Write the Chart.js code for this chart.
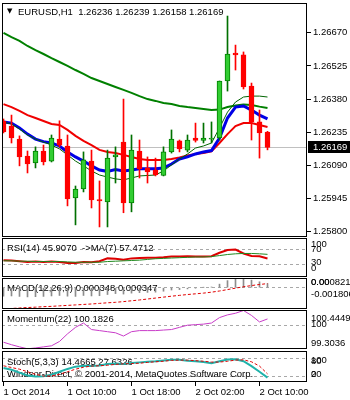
<!DOCTYPE html>
<html>
<head>
<meta charset="utf-8">
<script src="https://cdn.jsdelivr.net/npm/chart.js@4.4.0/dist/chart.umd.min.js"></script>
<style>
  html, body { margin: 0; padding: 0; background: #fff; }
  #wrap { position: relative; width: 350px; height: 400px; overflow: hidden; }
  canvas { position: absolute; left: 0; }
</style>
</head>
<body>
<div id="wrap">
  <canvas id="main" width="350" height="237" style="top:0px"></canvas>
  <canvas id="rsi" width="350" height="39" style="top:238px"></canvas>
  <canvas id="macd" width="350" height="31" style="top:278px"></canvas>
  <canvas id="mom" width="350" height="39" style="top:310px"></canvas>
  <canvas id="stoch" width="350" height="49" style="top:351px"></canvas>
</div>
<script>
// EURUSD H1 candles, 1 Oct 02:00 .. 2 Oct 11:00
const open  = [1.26284,1.26262,1.26205,1.26131,1.26101,1.26153,1.26109,1.26205,1.26175,1.25948,1.25987,1.26109,1.25941,1.25930,1.26127,1.26192,1.25926,1.26153,1.26079,1.26070,1.26046,1.26149,1.26197,1.26157,1.26210,1.26199,1.26205,1.26210,1.26459,1.26581,1.26573,1.26437,1.26280,1.26236];
const high  = [1.26293,1.26310,1.26219,1.26153,1.26171,1.26179,1.26223,1.26285,1.26223,1.26000,1.26149,1.26157,1.26022,1.26157,1.26171,1.26380,1.26223,1.26201,1.26127,1.26122,1.26171,1.26245,1.26201,1.26223,1.26275,1.26275,1.26280,1.26459,1.26743,1.26616,1.26586,1.26450,1.26332,1.26239];
const low   = [1.26232,1.26188,1.26088,1.26057,1.26079,1.26092,1.26105,1.26171,1.25913,1.25830,1.25974,1.25904,1.25821,1.25821,1.26013,1.25883,1.25887,1.26035,1.26013,1.26044,1.26044,1.26144,1.26149,1.26149,1.26192,1.26188,1.26188,1.26201,1.26415,1.26507,1.26424,1.26201,1.26122,1.26158];
const close = [1.26236,1.26210,1.26127,1.26096,1.26153,1.26105,1.26210,1.26179,1.25943,1.25987,1.26114,1.25939,1.25935,1.26122,1.26136,1.25926,1.26157,1.26075,1.26061,1.26048,1.26149,1.26205,1.26162,1.26201,1.26199,1.26210,1.26210,1.26459,1.26577,1.26573,1.26433,1.26280,1.26232,1.26169];

// moving averages on the price panel
const maSlow = [1.26669,1.26651,1.26634,1.26612,1.26594,1.26577,1.26559,1.26542,1.26525,1.26507,1.26490,1.26472,1.26459,1.26446,1.26433,1.26420,1.26407,1.26393,1.26380,1.26372,1.26363,1.26358,1.26350,1.26345,1.26341,1.26337,1.26332,1.26334,1.26345,1.26352,1.26356,1.26354,1.26347,1.26341];
const maMid  = [1.26358,1.26345,1.26328,1.26310,1.26297,1.26284,1.26271,1.26267,1.26245,1.26219,1.26197,1.26179,1.26158,1.26149,1.26144,1.26136,1.26127,1.26118,1.26114,1.26114,1.26114,1.26118,1.26125,1.26133,1.26140,1.26144,1.26151,1.26188,1.26227,1.26262,1.26275,1.26275,1.26267,1.26258];
const maFast = [1.26280,1.26275,1.26254,1.26227,1.26205,1.26194,1.26188,1.26175,1.26149,1.26127,1.26109,1.26088,1.26070,1.26064,1.26072,1.26066,1.26070,1.26075,1.26075,1.26075,1.26079,1.26096,1.26118,1.26127,1.26140,1.26149,1.26155,1.26210,1.26297,1.26345,1.26350,1.26332,1.26310,1.26293];
const maThin = [1.26280,1.26271,1.26249,1.26223,1.26205,1.26192,1.26179,1.26162,1.26136,1.26109,1.26088,1.26066,1.26048,1.26039,1.26031,1.26027,1.26035,1.26044,1.26046,1.26048,1.26066,1.26092,1.26118,1.26140,1.26166,1.26175,1.26188,1.26254,1.26323,1.26367,1.26389,1.26393,1.26393,1.26389];

// indicators
const rsi   = [41,40,38,36,37,36,37,36,33,33,36,35,38,46,45,42,46,47,48,48,49,51,51,52,51,51,52,62,70,71,60,53,52,45.9070];
const rsiMa = [39,39,38,38,37,37,37,37,36,35,35,35,35,37,38,39,40,41,43,45,46,47,48,49,50,50,51,54,57,59,60,60,59,57.4712];
const macdMain   = [-0.00072,-0.00070,-0.00074,-0.00078,-0.00076,-0.00074,-0.00070,-0.00066,-0.00072,-0.00074,-0.00066,-0.00070,-0.00068,-0.00058,-0.00050,-0.00054,-0.00046,-0.00042,-0.00040,-0.00038,-0.00030,-0.00020,-0.00016,-0.00010,-0.00004,0.00002,0.00006,0.00030,0.00060,0.00075,0.00075,0.00064,0.00050,0.000348];
const macdSignal = [-0.00180,-0.00176,-0.00172,-0.00168,-0.00165,-0.00161,-0.00158,-0.00154,-0.00150,-0.00146,-0.00142,-0.00138,-0.00133,-0.00128,-0.00124,-0.00118,-0.00111,-0.00104,-0.00096,-0.00088,-0.00080,-0.00072,-0.00065,-0.00058,-0.00052,-0.00046,-0.00038,-0.00028,-0.00016,-0.00004,0.00008,0.00018,0.00027,0.000347];
const momentum = [99.502,99.429,99.366,99.310,99.334,99.366,99.397,99.524,99.747,99.937,100.064,99.873,99.842,99.810,99.778,99.683,99.810,99.842,99.842,99.842,99.858,99.873,99.937,100.000,100.016,100.032,100.064,100.223,100.302,100.350,100.430,100.286,100.096,100.1826];
const stochMain   = [48,42,32,22,18,19,25,35,45,53,56,55,57,62,64,62,66,68,70,72,75,77,77,74,72,69,65,72,78,79,72,55,35,14.4665];
const stochSignal = [56,50,44,35,26,20,20,26,35,44,51,55,56,58,61,63,64,65,68,70,72,75,76,76,74,72,69,69,72,76,77,70,55,27.6326];

// axis ticks
const priceTicks = [1.25800,1.25945,1.26090,1.26235,1.26380,1.26525,1.26670];
const timeTickIdx = [0, 8, 16, 24, 32];
const timeLabels = ['1 Oct 2014', '1 Oct 10:00', '1 Oct 18:00', '2 Oct 02:00', '2 Oct 10:00'];

const FONT = '"Liberation Sans", Arial, sans-serif';
const X_MIN = -0.1875, X_MAX = 37.9375;
const pts = arr => arr.map((v, i) => ({ x: i, y: v }));
const up = open.map((o, i) => close[i] >= o);

const frame = {
  id: 'frame',
  afterDraw(chart) {
    const { ctx, chartArea: a } = chart;
    ctx.save();
    ctx.strokeStyle = '#000';
    ctx.lineWidth = 1;
    ctx.strokeRect(a.left + 0.5, a.top + 0.5, a.right - a.left - 1, a.bottom - a.top - 1);
    ctx.restore();
  }
};

const captions = {
  id: 'captions',
  beforeDatasetsDraw(chart, args, opts) {
    const { ctx, chartArea: a } = chart;
    ctx.save();
    ctx.fillStyle = '#000';
    ctx.textBaseline = 'alphabetic';
    (opts.items || []).forEach(it => {
      ctx.font = it.font || ('9.5px ' + FONT);
      ctx.fillText(it.text, a.left + it.dx, a.top + it.dy);
    });
    ctx.restore();
  }
};

const sideLabels = {
  id: 'sideLabels',
  afterDraw(chart, args, opts) {
    const { ctx, chartArea: a } = chart;
    const ys = chart.scales.y;
    ctx.save();
    ctx.fillStyle = '#000';
    ctx.font = '9.5px ' + FONT;
    ctx.textBaseline = 'middle';
    (opts.items || []).forEach(([text, v, dy]) => {
      ctx.fillText(text, a.right + 4, ys.getPixelForValue(v) + dy);
    });
    ctx.restore();
  }
};

const lastPrice = {
  id: 'lastPrice',
  beforeDatasetsDraw(chart, args, opts) {
    if (opts.value == null) return;
    const { ctx, chartArea: a } = chart;
    const y = Math.round(chart.scales.y.getPixelForValue(opts.value)) + 0.5;
    ctx.save();
    ctx.strokeStyle = '#c0c0c0';
    ctx.lineWidth = 1;
    ctx.beginPath();
    ctx.moveTo(a.left, y);
    ctx.lineTo(a.right, y);
    ctx.stroke();
    ctx.restore();
  },
  afterDraw(chart, args, opts) {
    if (opts.value == null) return;
    const { ctx, chartArea: a } = chart;
    const y = Math.round(chart.scales.y.getPixelForValue(opts.value));
    ctx.save();
    ctx.fillStyle = '#000';
    ctx.fillRect(a.right + 1, y - 6, chart.width - a.right - 1, 12);
    ctx.fillStyle = '#fff';
    ctx.font = '9.5px ' + FONT;
    ctx.textBaseline = 'middle';
    ctx.fillText(opts.value.toFixed(5), a.right + 6, y + 0.5);
    ctx.restore();
  }
};

function hiddenX() {
  return { type: 'linear', min: X_MIN, max: X_MAX, display: false, offset: false, grid: { offset: false } };
}

function levelAxis(min, max, levels) {
  return {
    position: 'right', min, max,
    afterBuildTicks: s => { s.ticks = levels.map(v => ({ value: v })); },
    afterFit: s => { s.width = 43; s.paddingTop = 0; s.paddingBottom = 0; },
    ticks: { display: false },
    grid: { color: '#a8a8a8', drawTicks: false },
    border: { display: false, dash: [3, 3] }
  };
}

function line(data, color, width, dash) {
  return { type: 'line', data: pts(data), borderColor: color, borderWidth: width,
           borderDash: dash || [], pointRadius: 0, tension: 0, fill: false };
}

function panel(id, datasets, y, plug, x) {
  return new Chart(document.getElementById(id), {
    type: 'bar',
    data: { datasets },
    options: {
      animation: false, responsive: false, events: [],
      layout: { padding: { left: 2, top: 0, right: 0, bottom: 0 } },
      plugins: Object.assign({ legend: { display: false }, tooltip: { enabled: false } }, plug),
      scales: { x: x || hiddenX(), y }
    },
    plugins: [captions, frame, sideLabels]
  });
}

// price panel
const last = open.length - 1;
new Chart(document.getElementById('main'), {
  type: 'bar',
  data: {
    datasets: [
      { type: 'bar', data: open.map((o, i) => ({ x: i, y: [o, close[i]] })),
        backgroundColor: up.map(u => u ? '#32cd32' : '#ff0000'),
        borderColor: up.map(u => u ? '#008000' : '#ff0000'),
        borderWidth: 1, borderSkipped: false, barThickness: 5, grouped: false, minBarLength: 1 },
      { type: 'bar', data: low.map((l, i) => ({ x: i, y: [l, high[i]] })),
        backgroundColor: up.map(u => u ? '#007000' : '#ff0000'),
        barThickness: 1, grouped: false },
      line(maThin, '#006400', 1),
      line(maFast, '#0000e6', 3),
      line(maMid, '#f00000', 2),
      line(maSlow, '#008000', 2)
    ]
  },
  options: {
    animation: false, responsive: false, events: [],
    layout: { padding: { left: 2, top: 3, right: 0, bottom: 0 } },
    plugins: {
      legend: { display: false }, tooltip: { enabled: false },
      lastPrice: { value: close[last] },
      captions: { items: [
        { text: '\u25BC', dx: 5, dy: 10, font: '7px "DejaVu Sans"' },
        { text: 'EURUSD,H1  ' + [open[last], high[last], low[last], close[last]].map(v => v.toFixed(5)).join(' '), dx: 16, dy: 12 }
      ] }
    },
    scales: {
      x: hiddenX(),
      y: {
        position: 'right', min: 1.25777, max: 1.26800,
        afterBuildTicks: s => { s.ticks = priceTicks.map(v => ({ value: v })); },
        afterFit: s => { s.width = 43; s.paddingTop = 0; s.paddingBottom = 0; },
        ticks: { color: '#000', padding: 2, font: { family: FONT, size: 9.5 }, callback: v => v.toFixed(5) },
        grid: { drawOnChartArea: false, drawTicks: true, tickLength: 4, tickColor: '#000', color: '#000' },
        border: { display: false }
      }
    }
  },
  plugins: [lastPrice, captions, frame]
});

// RSI
panel('rsi', [line(rsiMa, '#1f8a1f', 1), line(rsi, '#dd0000', 2)],
  levelAxis(-7, 104, [70, 30]),
  { captions: { items: [{ text: 'RSI(14) ' + rsi[last].toFixed(4) + '  ->MA(7) ' + rsiMa[last].toFixed(4), dx: 5, dy: 13 }] },
    sideLabels: { items: [['100', 100, 5], ['70', 70, -1], ['30', 30, -1.5], ['0', 0, -6.5]] } });

// MACD
panel('macd', [
    line(macdSignal, '#e00000', 1, [3, 2]),
    { type: 'bar', data: pts(macdMain), backgroundColor: '#8c8c8c', barThickness: 1, grouped: false }
  ],
  levelAxis(-0.001806, 0.000821, [0]),
  { captions: { items: [{ text: 'MACD(12,26,9) ' + macdMain[last].toFixed(6) + ' ' + macdSignal[last].toFixed(6), dx: 5, dy: 13 }] },
    sideLabels: { items: [['0.000821', 0.000821, 4], ['0.00', 0, -5.5], ['-0.001806', -0.001806, -15]] } });

// Momentum
panel('mom', [line(momentum, '#c83cc8', 1)],
  levelAxis(99.3036, 100.4449, [100]),
  { captions: { items: [{ text: 'Momentum(22) ' + momentum[last].toFixed(4), dx: 5, dy: 12 }] },
    sideLabels: { items: [['100.4449', 100.4449, 8], ['100', 100, -1], ['99.3036', 99.3036, -6]] } });

// Stochastic with the time axis
panel('stoch', [line(stochSignal, '#e00000', 1, [3, 2]), line(stochMain, '#20b2aa', 2)],
  levelAxis(-1, 108, [80, 20]),
  { captions: { items: [
      { text: 'Stoch(5,3,3) ' + stochMain[last].toFixed(4) + ' ' + stochSignal[last].toFixed(4), dx: 5, dy: 14 },
      { text: 'Windsor-Direct, \u00A9 2001-2014, MetaQuotes Software Corp.', dx: 5, dy: 26 }
    ] },
    sideLabels: { items: [['100', 100, 7.5], ['80', 80, 2], ['20', 20, -1.5], ['0', 0, -7]] } },
  {
    type: 'linear', min: X_MIN, max: X_MAX, position: 'bottom', offset: false,
    afterBuildTicks: s => { s.ticks = timeTickIdx.map(v => ({ value: v })); },
    afterFit: s => { s.height = 18; s.paddingLeft = 0; s.paddingRight = 0; },
    ticks: { align: 'start', padding: 1, color: '#000', maxRotation: 0, autoSkip: false,
             font: { family: FONT, size: 9.5 }, callback: (v, i) => timeLabels[i] },
    grid: { drawOnChartArea: false, offset: false, tickLength: 4, tickColor: '#000' },
    border: { display: false }
  });
</script>
</body>
</html>
